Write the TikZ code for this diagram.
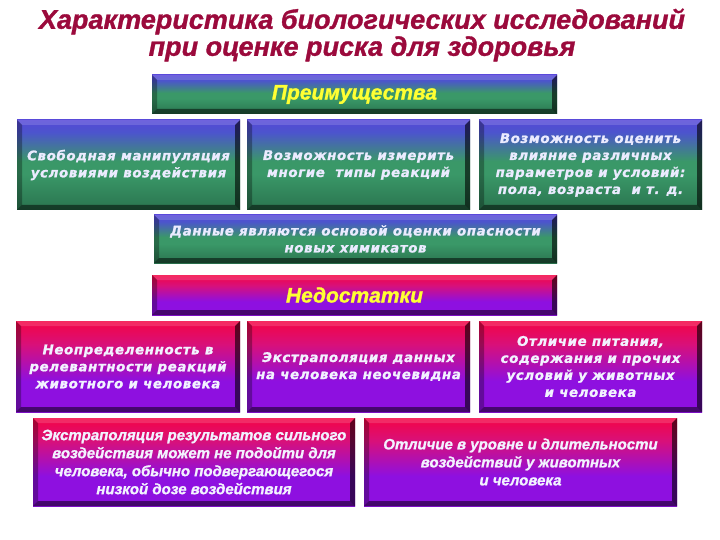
\documentclass[tikz,border=0pt]{standalone}
\usepackage{fontspec}
\setmainfont{DejaVu Sans}
\newfontfamily\boxfont[LetterSpace=5,FakeBold=1.2]{DejaVu Sans Bold Oblique}
\newfontfamily\titlefont[FakeBold=1.2]{Liberation Sans Bold Italic}
\usetikzlibrary{calc}
\definecolor{titlered}{HTML}{9B0A3C}
\definecolor{hdryellow}{HTML}{FFFF33}
\definecolor{gtop}{HTML}{6A2CF2}
\definecolor{gblue}{HTML}{4C55CC}
\definecolor{gmid}{HTML}{3A9868}
\definecolor{gbot}{HTML}{1E5A3C}
\definecolor{rtop}{HTML}{FF0030}
\definecolor{rmag}{HTML}{D8107A}
\definecolor{rpur}{HTML}{8E10E0}
\definecolor{rbot}{HTML}{520A84}
\pgfdeclareverticalshading{greenbox}{100bp}{color(0bp)=(gbot); color(10bp)=(gbot);
 color(45bp)=(gmid); color(52bp)=(gmid); color(68bp)=(gblue); color(90bp)=(gtop); color(100bp)=(gtop)}
\pgfdeclareverticalshading{redbox}{100bp}{color(0bp)=(rbot); color(8bp)=(rbot);
 color(28bp)=(rpur); color(42bp)=(rpur); color(62bp)=(rmag); color(80bp)=(rtop); color(100bp)=(rtop)}
\tikzset{
  bevel/.style={path picture={
    \fill[white,opacity=0.15] (path picture bounding box.north west) -- (path picture bounding box.north east)
      -- ($(path picture bounding box.north east)+(-5pt,-5pt)$) -- ($(path picture bounding box.north west)+(5pt,-5pt)$) -- cycle;
    \fill[black,opacity=0.3] (path picture bounding box.north west) -- ($(path picture bounding box.north west)+(5pt,-5pt)$)
      -- ($(path picture bounding box.south west)+(5pt,5pt)$) -- (path picture bounding box.south west) -- cycle;
    \fill[black,opacity=0.6] (path picture bounding box.north east) -- ($(path picture bounding box.north east)+(-5pt,-5pt)$)
      -- ($(path picture bounding box.south east)+(-5pt,5pt)$) -- (path picture bounding box.south east) -- cycle;
    \fill[black,opacity=0.5] (path picture bounding box.south west) -- ($(path picture bounding box.south west)+(5pt,5pt)$)
      -- ($(path picture bounding box.south east)+(-5pt,5pt)$) -- (path picture bounding box.south east) -- cycle;
  }},
  gbox/.style={shading=greenbox, bevel, inner sep=0pt, text=white!92!blue, align=center,
    font=\boxfont\fontsize{13.3}{17}\selectfont},
  rbox/.style={shading=redbox, bevel, inner sep=0pt, text=white!95!blue, align=center,
    font=\boxfont\fontsize{13.3}{17}\selectfont},
  rbox2/.style={rbox, font=\titlefont\fontsize{15}{18}\selectfont},
  hdr/.style={text=hdryellow, font=\titlefont\fontsize{21}{22}\selectfont},
  ttl/.style={text=titlered, align=center, font=\titlefont\fontsize{27}{27}\selectfont},
}
\begin{document}
\begin{tikzpicture}[x=1pt,y=-1pt]
\useasboundingbox (0,0) rectangle (720,540);
\node[ttl] (title) at (362,35) {Характеристика биологических исследований\\при оценке риска для здоровья};

\node[gbox, hdr, minimum width=405pt, minimum height=39pt] (adv) at (354.5,94.5) {Преимущества};
\node[gbox, minimum width=223pt, minimum height=90pt] (a1) at (128.5,165) {Свободная манипуляция\\условиями воздействия};
\node[gbox, minimum width=223pt, minimum height=90pt] (a2) at (358.5,165) {Возможность измерить\\многие\ \ типы реакций};
\node[gbox, minimum width=223pt, minimum height=90pt] (a3) at (590.5,165) {Возможность оценить\\влияние различных\\параметров и условий:\\пола, возраста\ \ и т. д.};
\node[gbox, minimum width=403pt, minimum height=48pt] (a4) at (355.5,239) {Данные являются основой оценки опасности\\новых химикатов};

\node[rbox, hdr, minimum width=405pt, minimum height=40pt] (dis) at (354.5,295) {Недостатки};
\node[rbox, minimum width=224pt, minimum height=91pt] (d1) at (128,366.5) {Неопределенность в\\релевантности реакций\\животного и человека};
\node[rbox, minimum width=223pt, minimum height=91pt] (d2) at (358.5,366.5) {Экстраполяция данных\\на человека неочевидна};
\node[rbox, minimum width=223pt, minimum height=91pt] (d3) at (590.5,366.5) {Отличие питания,\\содержания и прочих\\условий у животных\\и человека};
\node[rbox2, minimum width=322pt, minimum height=88pt] (d4) at (194,462) {Экстраполяция результатов сильного\\воздействия может не подойти для\\человека, обычно подвергающегося\\низкой дозе воздействия};
\node[rbox2, minimum width=313pt, minimum height=88pt] (d5) at (520.5,462) {Отличие в уровне и длительности\\воздействий у животных\\и человека};
\end{tikzpicture}
\end{document}
